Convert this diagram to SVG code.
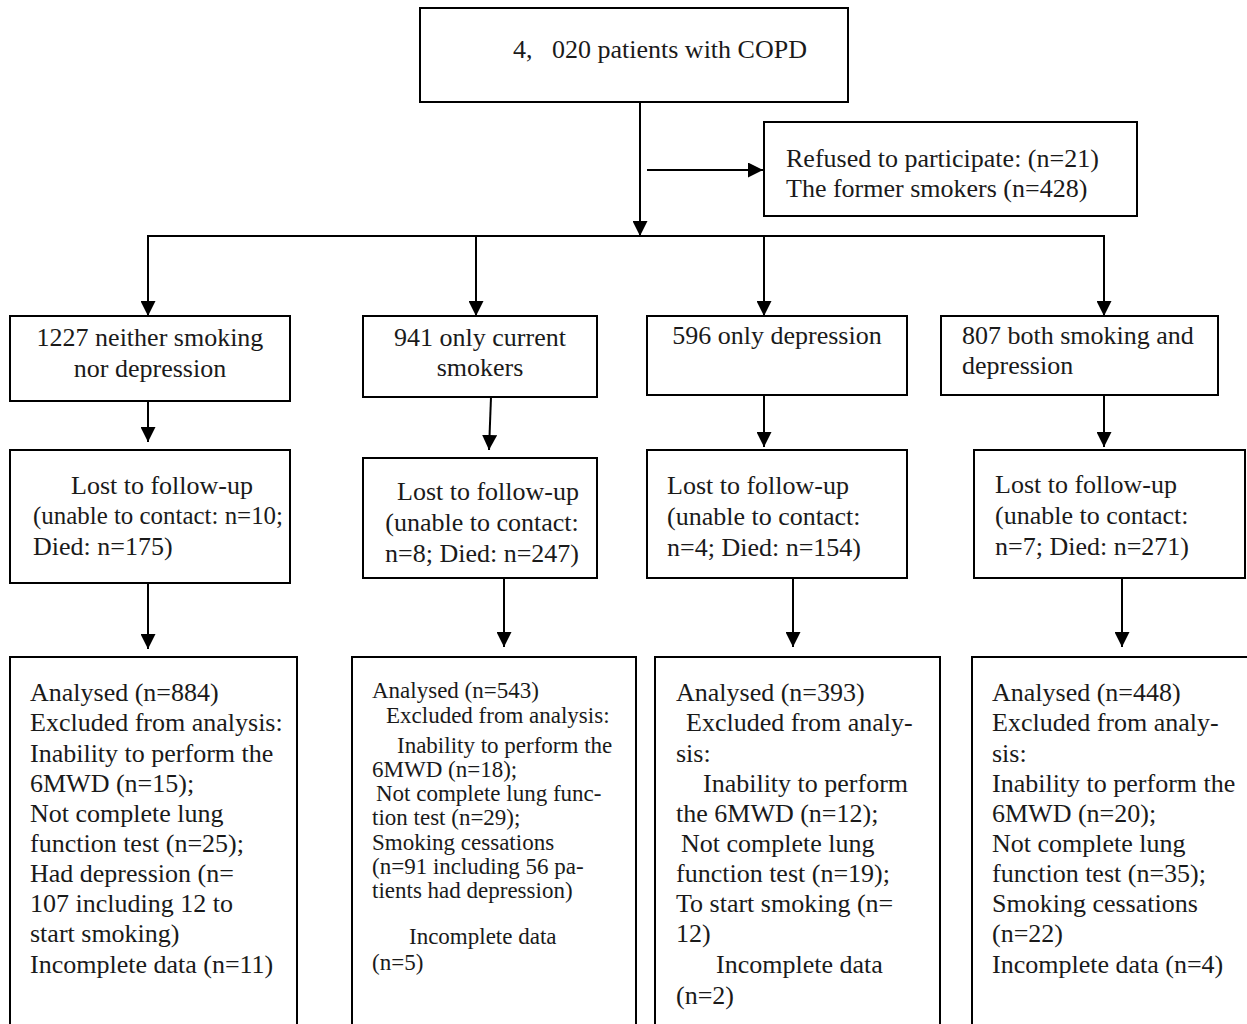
<svg xmlns="http://www.w3.org/2000/svg" width="1247" height="1024" viewBox="0 0 1247 1024">
<defs>
<marker id="ah" viewBox="0 0 15 15" refX="15" refY="7.5" markerWidth="15" markerHeight="15" markerUnits="userSpaceOnUse" orient="auto">
<path d="M0,0 L15,7.5 L0,15 Z" fill="#000"/>
</marker>
<style>
.box{fill:#fff;stroke:#000;stroke-width:2}
.t{font-family:"Liberation Serif","Times New Roman",serif;font-size:26px;fill:#1a1a1a;white-space:pre}
.s{font-family:"Liberation Serif","Times New Roman",serif;font-size:23px;fill:#1a1a1a;white-space:pre}
.c{text-anchor:middle}
.ln{stroke:#000;stroke-width:2;fill:none}
</style>
</defs>
<rect width="1247" height="1024" fill="#fff"/>
<g id="connectors">
<line class="ln" x1="640" y1="102" x2="640" y2="236" marker-end="url(#ah)"/>
<line class="ln" x1="647" y1="170" x2="763" y2="170" marker-end="url(#ah)"/>
<polyline class="ln" points="148,316 148,236 1104,236 1104,316"/>
<line class="ln" x1="148" y1="236" x2="148" y2="316" marker-end="url(#ah)"/>
<line class="ln" x1="476" y1="236" x2="476" y2="316" marker-end="url(#ah)"/>
<line class="ln" x1="764" y1="236" x2="764" y2="316" marker-end="url(#ah)"/>
<line class="ln" x1="1104" y1="236" x2="1104" y2="316" marker-end="url(#ah)"/>
<line class="ln" x1="148" y1="401" x2="148" y2="442" marker-end="url(#ah)"/>
<line class="ln" x1="491" y1="397" x2="489" y2="450" marker-end="url(#ah)"/>
<line class="ln" x1="764" y1="395" x2="764" y2="447" marker-end="url(#ah)"/>
<line class="ln" x1="1104" y1="395" x2="1104" y2="447" marker-end="url(#ah)"/>
<line class="ln" x1="148" y1="583" x2="148" y2="649" marker-end="url(#ah)"/>
<line class="ln" x1="504" y1="578" x2="504" y2="647" marker-end="url(#ah)"/>
<line class="ln" x1="793" y1="578" x2="793" y2="647" marker-end="url(#ah)"/>
<line class="ln" x1="1122" y1="578" x2="1122" y2="647" marker-end="url(#ah)"/>
</g>
<g id="start">
<rect class="box" x="420" y="8" width="428" height="94"/>
<text class="t" x="513" y="58">4,   020 patients with COPD</text>
</g>
<g id="excluded">
<rect class="box" x="764" y="122" width="373" height="94"/>
<text class="t" x="786" y="167">Refused to participate: (n=21)</text>
<text class="t" x="786" y="197">The former smokers (n=428)</text>
</g>
<g id="group1">
<rect class="box" x="10" y="316" width="280" height="85"/>
<text class="t c" x="150" y="346">1227 neither smoking</text>
<text class="t c" x="150" y="377">nor depression</text>
</g>
<g id="group2">
<rect class="box" x="363" y="316" width="234" height="81"/>
<text class="t c" x="480" y="346">941 only current</text>
<text class="t c" x="480" y="376">smokers</text>
</g>
<g id="group3">
<rect class="box" x="647" y="316" width="260" height="79"/>
<text class="t c" x="777" y="344">596 only depression</text>
</g>
<g id="group4">
<rect class="box" x="941" y="316" width="277" height="79"/>
<text class="t" x="962" y="344">807 both smoking and</text>
<text class="t" x="962" y="374">depression</text>
</g>
<g id="lost1">
<rect class="box" x="10" y="450" width="280" height="133"/>
<text class="t c" x="162" y="494">Lost to follow-up</text>
<text class="t" x="33" y="524" textLength="250" lengthAdjust="spacingAndGlyphs">(unable to contact: n=10;</text>
<text class="t" x="33" y="555">Died: n=175)</text>
</g>
<g id="lost2">
<rect class="box" x="363" y="458" width="234" height="120"/>
<text class="t c" x="488" y="500">Lost to follow-up</text>
<text class="t c" x="482" y="531">(unable to contact:</text>
<text class="t c" x="482" y="562">n=8; Died: n=247)</text>
</g>
<g id="lost3">
<rect class="box" x="647" y="450" width="260" height="128"/>
<text class="t" x="667" y="494">Lost to follow-up</text>
<text class="t" x="667" y="525">(unable to contact:</text>
<text class="t" x="667" y="556">n=4; Died: n=154)</text>
</g>
<g id="lost4">
<rect class="box" x="974" y="450" width="271" height="128"/>
<text class="t" x="995" y="493">Lost to follow-up</text>
<text class="t" x="995" y="524">(unable to contact:</text>
<text class="t" x="995" y="555">n=7; Died: n=271)</text>
</g>
<g id="analysed1">
<rect class="box" x="10" y="657" width="287" height="380"/>
<text class="t" x="30" y="701">Analysed (n=884)</text>
<text class="t" x="30" y="731">Excluded from analysis:</text>
<text class="t" x="30" y="762">Inability to perform the</text>
<text class="t" x="30" y="792">6MWD (n=15);</text>
<text class="t" x="30" y="822">Not complete lung</text>
<text class="t" x="30" y="852">function test (n=25);</text>
<text class="t" x="30" y="882">Had depression (n=</text>
<text class="t" x="30" y="912">107 including 12 to</text>
<text class="t" x="30" y="942">start smoking)</text>
<text class="t" x="30" y="973">Incomplete data (n=11)</text>
</g>
<g id="analysed2">
<rect class="box" x="352" y="657" width="284" height="380"/>
<text class="s" x="372" y="698">Analysed (n=543)</text>
<text class="s" x="386" y="723">Excluded from analysis:</text>
<text class="s" x="397" y="753">Inability to perform the</text>
<text class="s" x="372" y="777">6MWD (n=18);</text>
<text class="s" x="376" y="801">Not complete lung func-</text>
<text class="s" x="372" y="825">tion test (n=29);</text>
<text class="s" x="372" y="850">Smoking cessations</text>
<text class="s" x="372" y="874">(n=91 including 56 pa-</text>
<text class="s" x="372" y="898">tients had depression)</text>
<text class="s" x="409" y="944">Incomplete data</text>
<text class="s" x="372" y="970">(n=5)</text>
</g>
<g id="analysed3">
<rect class="box" x="655" y="657" width="285" height="380"/>
<text class="t" x="676" y="701">Analysed (n=393)</text>
<text class="t" x="686" y="731">Excluded from analy-</text>
<text class="t" x="676" y="762">sis:</text>
<text class="t" x="703" y="792">Inability to perform</text>
<text class="t" x="676" y="822">the 6MWD (n=12);</text>
<text class="t" x="681" y="852">Not complete lung</text>
<text class="t" x="676" y="882">function test (n=19);</text>
<text class="t" x="676" y="912">To start smoking (n=</text>
<text class="t" x="676" y="942">12)</text>
<text class="t" x="716" y="973">Incomplete data</text>
<text class="t" x="676" y="1004">(n=2)</text>
</g>
<g id="analysed4">
<rect class="box" x="972" y="657" width="287" height="380"/>
<text class="t" x="992" y="701">Analysed (n=448)</text>
<text class="t" x="992" y="731">Excluded from analy-</text>
<text class="t" x="992" y="762">sis:</text>
<text class="t" x="992" y="792">Inability to perform the</text>
<text class="t" x="992" y="822">6MWD (n=20);</text>
<text class="t" x="992" y="852">Not complete lung</text>
<text class="t" x="992" y="882">function test (n=35);</text>
<text class="t" x="992" y="912">Smoking cessations</text>
<text class="t" x="992" y="942">(n=22)</text>
<text class="t" x="992" y="973">Incomplete data (n=4)</text>
</g>
</svg>
